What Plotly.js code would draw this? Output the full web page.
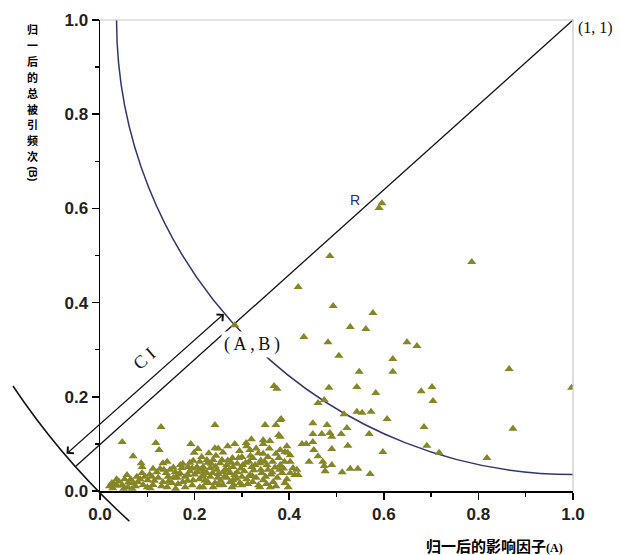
<!DOCTYPE html>
<html>
<head>
<meta charset="utf-8">
<script src="https://cdn.plot.ly/plotly-3.0.1.min.js"></script>
<style>html,body{margin:0;padding:0;background:#fff;}#chart{width:621px;height:555px;}</style>
</head>
<body>
<div id="chart"></div>
<script>
// ---- data: normalised impact factor (A) vs normalised citations (B) ----
const sparsePoints = [
  [0.596,0.611],[0.590,0.601],[0.486,0.499],[0.786,0.486],[0.419,0.433],[0.493,0.393],
  [0.577,0.378],[0.529,0.348],[0.562,0.344],[0.431,0.327],[0.482,0.316],[0.649,0.316],
  [0.670,0.308],[0.505,0.287],[0.619,0.280],[0.548,0.253],[0.619,0.253],[0.865,0.259],
  [0.997,0.219],[0.484,0.219],[0.543,0.221],[0.583,0.208],[0.679,0.212],[0.702,0.221],
  [0.704,0.191],[0.461,0.187],[0.474,0.193],[0.516,0.163],[0.543,0.168],[0.554,0.166],
  [0.573,0.168],[0.607,0.153],[0.685,0.136],[0.873,0.132],[0.691,0.096],[0.717,0.081],
  [0.818,0.070],[0.598,0.083],[0.571,0.036],[0.545,0.047],[0.529,0.047],[0.512,0.040],
  [0.522,0.134],[0.569,0.121],[0.510,0.121],[0.486,0.123],[0.490,0.115],[0.480,0.140],
  [0.469,0.121],[0.450,0.144],[0.450,0.121],[0.450,0.104],[0.427,0.100],[0.436,0.100],
  [0.452,0.087],[0.490,0.089],[0.524,0.096],[0.461,0.074],[0.442,0.062],[0.471,0.062],
  [0.490,0.055],[0.474,0.053],[0.476,0.042],[0.402,0.076],[0.402,0.062],[0.408,0.049],
  [0.412,0.034],[0.419,0.034],[0.391,0.083],[0.381,0.151],[0.381,0.115],[0.381,0.087]
];
const midPoints = [
  [0.243,0.140],[0.349,0.140],[0.372,0.140],[0.383,0.153],[0.378,0.119],[0.345,0.108],
  [0.359,0.106],[0.345,0.100],[0.309,0.102],[0.243,0.091],[0.317,0.087],[0.300,0.072],
  [0.323,0.070],[0.345,0.079],[0.355,0.072],[0.372,0.079],[0.397,0.081],[0.302,0.055],
  [0.321,0.051],[0.338,0.059],[0.353,0.055],[0.381,0.055],[0.416,0.045],[0.317,0.034],
  [0.342,0.038],[0.364,0.040],[0.385,0.038],[0.402,0.038],[0.323,0.019],[0.345,0.023],
  [0.366,0.019],[0.391,0.017],[0.338,0.008],[0.300,0.030],[0.374,0.217],[0.368,0.223]
];
const densePoints = [
  [0.211,0.062],[0.226,0.066],[0.239,0.066],[0.254,0.059],[0.268,0.055],[0.281,0.051],
  [0.290,0.040],[0.218,0.051],[0.233,0.049],[0.247,0.045],[0.260,0.040],[0.275,0.038],
  [0.218,0.034],[0.233,0.030],[0.249,0.028],[0.268,0.028],[0.281,0.023],[0.226,0.017],
  [0.243,0.017],[0.260,0.013],[0.279,0.008],[0.296,0.017],[0.218,0.008],[0.239,0.008],
  [0.275,0.019],[0.129,0.136],[0.047,0.104],[0.118,0.102],[0.125,0.087],[0.192,0.100],
  [0.199,0.081],[0.207,0.089],[0.070,0.074],[0.197,0.064],[0.087,0.059],[0.089,0.051],
  [0.089,0.038],[0.133,0.059],[0.142,0.062],[0.112,0.047],[0.127,0.047],[0.057,0.034],
  [0.025,0.017],[0.036,0.011],[0.047,0.013],[0.059,0.008],[0.070,0.017],[0.080,0.019],
  [0.091,0.013],[0.101,0.023],[0.112,0.013],[0.123,0.028],[0.133,0.019],[0.144,0.030],
  [0.152,0.017],[0.163,0.028],[0.169,0.038],[0.175,0.019],[0.186,0.034],[0.197,0.023],
  [0.205,0.040],[0.216,0.030],[0.226,0.038],[0.228,0.019],[0.027,0.006],[0.106,0.006],
  [0.142,0.008],[0.180,0.008],[0.211,0.008],[0.159,0.040],[0.148,0.045],[0.173,0.049],
  [0.186,0.051],[0.205,0.051],
  [0.040,0.020],[0.065,0.025],[0.075,0.010],[0.095,0.030],[0.105,0.035],[0.115,0.022],
  [0.130,0.010],[0.140,0.038],[0.155,0.028],[0.165,0.015],[0.170,0.055],[0.180,0.030],
  [0.190,0.042],[0.195,0.012],[0.210,0.025],[0.220,0.042],[0.235,0.058],[0.250,0.036],
  [0.255,0.022],[0.265,0.046],[0.270,0.065],[0.285,0.034],[0.290,0.058],[0.300,0.012],
  [0.305,0.042],[0.310,0.025],[0.315,0.062],[0.325,0.044],[0.330,0.028],[0.335,0.012],
  [0.350,0.030],[0.355,0.045],[0.360,0.008],[0.365,0.062],[0.375,0.028],[0.380,0.045],
  [0.390,0.062],[0.395,0.025],[0.100,0.008],[0.085,0.025],[0.050,0.005],[0.060,0.018],
  [0.020,0.010],[0.030,0.015],[0.245,0.075],[0.230,0.080],[0.260,0.082],[0.280,0.070],
  [0.295,0.085],[0.330,0.090],[0.340,0.065]
];
const densePoints2 = [
  [0.155,0.050],[0.165,0.035],[0.175,0.058],[0.185,0.022],[0.195,0.048],[0.200,0.035],
  [0.212,0.045],[0.222,0.022],[0.228,0.060],[0.238,0.038],[0.244,0.052],[0.252,0.012],
  [0.258,0.066],[0.263,0.030],[0.272,0.043],[0.278,0.060],[0.283,0.012],[0.288,0.026],
  [0.293,0.070],[0.298,0.048],[0.308,0.060],[0.312,0.015],[0.318,0.075],[0.322,0.032],
  [0.328,0.055],[0.335,0.080],[0.340,0.045],[0.348,0.062],[0.352,0.015],[0.358,0.090],
  [0.362,0.035],[0.370,0.050],[0.372,0.010],[0.378,0.070],[0.388,0.048],[0.395,0.095],
  [0.398,0.008],[0.120,0.040],[0.135,0.045],[0.145,0.020],[0.110,0.030],[0.078,0.030],
  [0.068,0.005],[0.052,0.025],[0.035,0.025],[0.160,0.005],[0.190,0.060],[0.215,0.072],
  [0.250,0.090],[0.270,0.095],[0.285,0.100],[0.310,0.095],[0.320,0.110]
];
const abPoint = [0.285, 0.352];

// ---- guide geometry (circles centred on the ideal point (1,1)) ----
const idealPoint = [1, 1];
const innerRadius = 0.965;
const outerArc = {start: [-0.184, 0.223], ctrl: [-0.079, 0.065], end: [0.062, -0.064]};
const rLineStart = [-0.053, 0.051];
const ciArrow = {tail: [-0.074, 0.076], head: [0.262, 0.376]};

const xTickVals = [0, 0.2, 0.4, 0.6, 0.8, 1.0];
const yTickVals = [0, 0.2, 0.4, 0.6, 0.8, 1.0];
const yTitleChars = '归一后的总被引频次';
const yTitleSuffix = '(B)';
const xTitleText = '归一后的影响因子';
const xTitleSuffix = '(A)';

const allPts = sparsePoints.concat(midPoints, densePoints, densePoints2, [abPoint]);
const markerColor = '#868626';

const trace = {
  type: 'scatter', mode: 'markers',
  x: allPts.map(p => p[0]), y: allPts.map(p => p[1]),
  marker: {symbol: 'triangle-up', size: 8, color: markerColor},
  hoverinfo: 'skip'
};

const tickFont = {family: 'Liberation Sans, Arial, sans-serif', size: 17, color: '#222', weight: 'bold'};
const axisCommon = {
  range: [0, 1], showgrid: false, zeroline: false, showline: true,
  linecolor: '#000', linewidth: 1.5, ticks: 'outside', ticklen: 7, tickwidth: 1.5,
  tickcolor: '#000', tickformat: '.1f', tickfont: tickFont,
  minor: {dtick: 0.1, ticks: 'outside', ticklen: 4, tickwidth: 1.3, tickcolor: '#000'}
};

const serif = 'Liberation Serif, DejaVu Serif, serif';
const cjk = 'Noto Sans CJK SC, sans-serif';

// plot area: top 20px, height 471px -> paper y from pixel row
const plotTop = 20, plotH = 471;
const pyToPaper = py => 1 - (py - plotTop) / plotH;

const yTitleAnns = Array.from(yTitleChars).map((ch, i) => ({
  xref: 'paper', yref: 'paper', x: -0.142, y: pyToPaper(29 + i * 15.9),
  xanchor: 'center', yanchor: 'middle', showarrow: false, text: ch, borderpad: 0,
  font: {family: cjk, size: 11, color: '#000', weight: 'bold'}
}));
yTitleAnns.push({
  xref: 'paper', yref: 'paper', x: -0.142, y: pyToPaper(174),
  xanchor: 'center', yanchor: 'middle', showarrow: false, textangle: 90, text: yTitleSuffix,
  borderpad: 0, font: {family: 'Liberation Sans, Arial, sans-serif', size: 11, color: '#000', weight: 'bold'}
});

const layout = {
  width: 621, height: 555,
  margin: {l: 100, r: 48, t: 20, b: 64},
  paper_bgcolor: '#fff', plot_bgcolor: '#fff',
  showlegend: false,
  xaxis: Object.assign({}, axisCommon, {tickvals: xTickVals}),
  yaxis: Object.assign({}, axisCommon, {tickvals: yTickVals}),
  shapes: [
    {type: 'line', xref: 'paper', yref: 'paper', x0: 0, y0: 1, x1: 1, y1: 1,
     line: {color: '#c8c8c8', width: 1.2}},
    {type: 'line', xref: 'paper', yref: 'paper', x0: 1, y0: 0, x1: 1, y1: 1,
     line: {color: '#c8c8c8', width: 1.2}},
    {type: 'circle', xref: 'x', yref: 'y', layer: 'below',
     x0: idealPoint[0] - innerRadius, x1: idealPoint[0] + innerRadius,
     y0: idealPoint[1] - innerRadius, y1: idealPoint[1] + innerRadius,
     line: {color: '#34346e', width: 1.5}},
    {type: 'path', xref: 'paper', yref: 'paper',
     path: 'M ' + outerArc.start.join(' ') + ' Q ' + outerArc.ctrl.join(' ') + ' ' + outerArc.end.join(' '),
     line: {color: '#111', width: 1.5}},
    {type: 'line', xref: 'paper', yref: 'paper', layer: 'below',
     x0: rLineStart[0], y0: rLineStart[1], x1: idealPoint[0], y1: idealPoint[1],
     line: {color: '#111', width: 1.3}}
  ],
  annotations: [
    {xref: 'x', yref: 'y', axref: 'x', ayref: 'y',
     x: ciArrow.head[0], y: ciArrow.head[1], ax: ciArrow.tail[0], ay: ciArrow.tail[1],
     text: '', showarrow: true, arrowside: 'end+start', arrowhead: 4, startarrowhead: 4,
     arrowsize: 1.6, startarrowsize: 1.6, arrowwidth: 1.1, arrowcolor: '#111'},
    {xref: 'paper', yref: 'paper', x: 0.321, y: 0.310, xanchor: 'center', yanchor: 'middle',
     showarrow: false, text: '(\u2009A\u2009,\u2009B\u2009)',
     font: {family: serif, size: 18, color: '#111'}, bgcolor: '#fff', borderpad: 2},
    {xref: 'paper', yref: 'paper', x: 0.095, y: 0.282, xanchor: 'center', yanchor: 'middle',
     showarrow: false, textangle: -41, text: 'C I', font: {family: serif, size: 18, color: '#111'}},
    {xref: 'paper', yref: 'paper', x: 0.539, y: 0.618, xanchor: 'center', yanchor: 'middle',
     showarrow: false, text: 'R',
     font: {family: 'Liberation Sans, Arial, sans-serif', size: 14, color: '#22307a'}},
    {xref: 'paper', yref: 'paper', x: 1.006, y: 0.983, xanchor: 'left', yanchor: 'middle',
     showarrow: false, text: '(1,\u00a01)', font: {family: serif, size: 16, color: '#111'}},
    {xref: 'paper', yref: 'paper', x: 0.833, y: -0.115, xanchor: 'center', yanchor: 'middle',
     showarrow: false,
     text: xTitleText + '<span style="font-family:Liberation Serif;font-size:12px;font-weight:bold">' + xTitleSuffix + '</span>',
     font: {family: cjk, size: 15, color: '#000', weight: 'bold'}}
  ].concat(yTitleAnns)
};

Plotly.newPlot('chart', [trace], layout, {displayModeBar: false, staticPlot: true});
</script>
</body>
</html>
